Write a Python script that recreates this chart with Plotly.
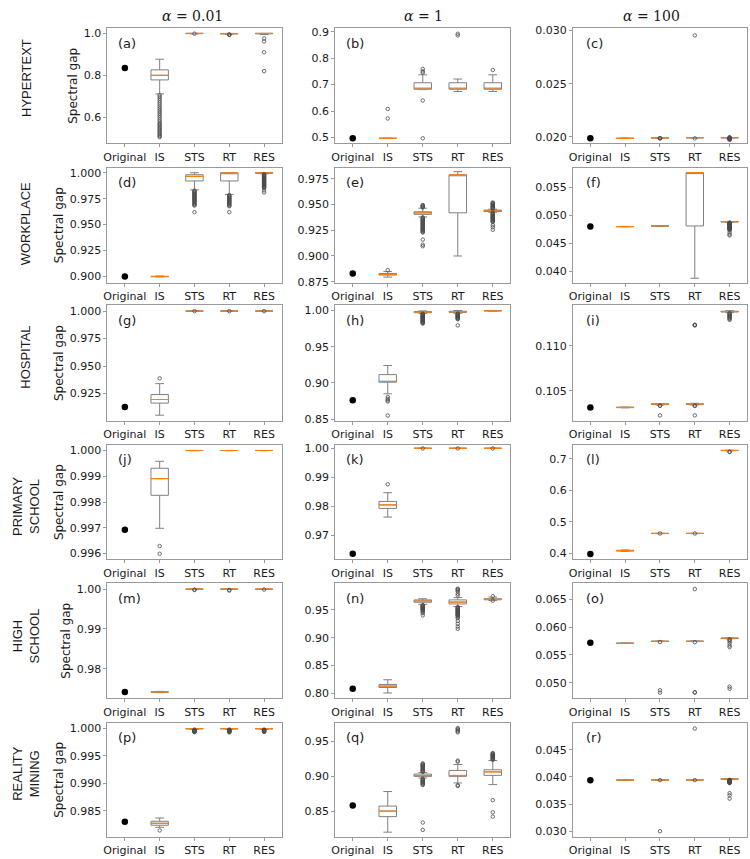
import plotly.graph_objects as go

# ---------------------------------------------------------------- text
CATEGORIES = ["Original", "IS", "STS", "RT", "RES"]
METHODS = ["IS", "STS", "RT", "RES"]
ROW_LABELS = ["HYPERTEXT", "WORKPLACE", "HOSPITAL", "PRIMARY<br>SCHOOL",
              "HIGH<br>SCHOOL", "REALITY<br>MINING"]
COL_TITLES = ["<i>α</i> = 0.01", "<i>α</i> = 1", "<i>α</i> = 100"]
PANEL_TAGS = ["(a)", "(b)", "(c)", "(d)", "(e)", "(f)", "(g)", "(h)", "(i)",
              "(j)", "(k)", "(l)", "(m)", "(n)", "(o)", "(p)", "(q)", "(r)"]
Y_TITLE = "Spectral gap"

# ---------------------------------------------------------------- data
# box summaries: [lower whisker, Q1, median, Q3, upper whisker]

# (a) HYPERTEXT, alpha = 0.01
A_TICKS = ["0.6", "0.8", "1.0"]
A_ORIGINAL = 0.835
A_IS = [0.711, 0.778, 0.800, 0.826, 0.877]
A_STS = [0.998, 0.999, 1.000, 1.000, 1.000]
A_RT = [0.996, 0.998, 0.999, 1.000, 1.000]
A_RES = [0.995, 0.998, 1.000, 1.000, 1.000]
A_IS_OUT = [0.705, 0.697, 0.688, 0.679, 0.670, 0.661, 0.652, 0.643, 0.634, 0.625,
            0.616, 0.607, 0.598, 0.589, 0.580, 0.572, 0.566,
            0.560, 0.553, 0.547, 0.541, 0.535, 0.528, 0.522, 0.516, 0.510, 0.505]
A_STS_OUT = [0.999]
A_RT_OUT = [0.995, 0.994, 0.993]
A_RES_OUT = [0.976, 0.962, 0.910, 0.820]

# (b) HYPERTEXT, alpha = 1
B_TICKS = ["0.5", "0.6", "0.7", "0.8", "0.9"]
B_ORIGINAL = 0.497
B_IS = [0.497, 0.497, 0.497, 0.497, 0.497]
B_STS = [0.681, 0.683, 0.683, 0.707, 0.737]
B_RT = [0.674, 0.683, 0.683, 0.707, 0.721]
B_RES = [0.674, 0.683, 0.683, 0.707, 0.737]
B_IS_OUT = [0.608, 0.572]
B_STS_OUT = [0.745, 0.750, 0.759, 0.640, 0.497]
B_RT_OUT = [0.886, 0.892]
B_RES_OUT = [0.755]

# (c) HYPERTEXT, alpha = 100
C_TICKS = ["0.020", "0.025", "0.030"]
C_ORIGINAL = 0.01985
C_IS = [0.01984, 0.01985, 0.01985, 0.01986, 0.01987]
C_STS = [0.01988, 0.01990, 0.01990, 0.01991, 0.01992]
C_RT = [0.01988, 0.01990, 0.01991, 0.01992, 0.01993]
C_RES = [0.01989, 0.01990, 0.01991, 0.01992, 0.01993]
C_IS_OUT = []
C_STS_OUT = [0.01987, 0.01986, 0.01985]
C_RT_OUT = [0.01985, 0.02954]
C_RES_OUT = [0.01988, 0.01986, 0.01984, 0.01982, 0.01980, 0.01978, 0.01975,
             0.01972, 0.01994, 0.01995]

# (d) WORKPLACE, alpha = 0.01
D_TICKS = ["0.900", "0.925", "0.950", "0.975", "1.000"]
D_ORIGINAL = 0.900
D_IS = [0.8996, 0.8998, 0.9000, 0.9002, 0.9004]
D_STS = [0.9835, 0.9921, 0.9965, 0.9981, 1.0000]
D_RT = [0.9791, 0.9921, 1.0000, 1.0000, 1.0000]
D_RES = [0.9990, 0.9995, 1.0000, 1.0000, 1.0000]
D_IS_OUT = []
D_STS_OUT = [0.9828, 0.9822, 0.9815, 0.9808, 0.9800, 0.9793, 0.9786, 0.9779,
             0.9772, 0.9765, 0.9758, 0.9751, 0.9744, 0.9737, 0.9730, 0.9722,
             0.9714, 0.9706, 0.9698, 0.9690, 0.9684, 0.9620]
D_RT_OUT = [0.9785, 0.9778, 0.9771, 0.9764, 0.9757, 0.9750, 0.9743, 0.9736,
            0.9729, 0.9722, 0.9715, 0.9708, 0.9700, 0.9692, 0.9684, 0.9677,
            0.9620]
D_RES_OUT = [0.9986, 0.9980, 0.9974, 0.9968, 0.9962, 0.9956, 0.9950, 0.9944,
             0.9938, 0.9932, 0.9926, 0.9920, 0.9914, 0.9908, 0.9902, 0.9896,
             0.9890, 0.9884, 0.9878, 0.9872, 0.9866, 0.9860, 0.9854, 0.9830,
             0.9810]

# (e) WORKPLACE, alpha = 1
E_TICKS = ["0.875", "0.900", "0.925", "0.950", "0.975"]
E_ORIGINAL = 0.883
E_IS = [0.8795, 0.8815, 0.8822, 0.8830, 0.8850]
E_STS = [0.9380, 0.9405, 0.9420, 0.9430, 0.9465]
E_RT = [0.9000, 0.9420, 0.9790, 0.9790, 0.9820]
E_RES = [0.9425, 0.9432, 0.9440, 0.9447, 0.9455]
E_IS_OUT = [0.8862]
E_STS_OUT = [0.9472, 0.9478, 0.9484, 0.9490, 0.9496,
             0.9375, 0.9368, 0.9361, 0.9354, 0.9347, 0.9340, 0.9333, 0.9326,
             0.9319, 0.9312, 0.9305, 0.9298, 0.9291, 0.9284, 0.9277, 0.9270,
             0.9263, 0.9256, 0.9249, 0.9242, 0.9235, 0.9228, 0.9160, 0.9110,
             0.9095]
E_RT_OUT = []
E_RES_OUT = [0.9460, 0.9466, 0.9472, 0.9478, 0.9484, 0.9490, 0.9496, 0.9502,
             0.9508, 0.9514, 0.9520,
             0.9420, 0.9414, 0.9408, 0.9402, 0.9396, 0.9390, 0.9384, 0.9378,
             0.9372, 0.9366, 0.9360, 0.9354, 0.9348, 0.9342, 0.9336, 0.9330,
             0.9300, 0.9280, 0.9255]

# (f) WORKPLACE, alpha = 100
F_TICKS = ["0.040", "0.045", "0.050", "0.055"]
F_ORIGINAL = 0.0480
F_IS = [0.04798, 0.04799, 0.04800, 0.04801, 0.04802]
F_STS = [0.04808, 0.04809, 0.04810, 0.04811, 0.04812]
F_RT = [0.0387, 0.0481, 0.0577, 0.0577, 0.0577]
F_RES = [0.04878, 0.04882, 0.04888, 0.04890, 0.04892]
F_IS_OUT = []
F_STS_OUT = []
F_RT_OUT = []
F_RES_OUT = [0.04872, 0.04866, 0.04860, 0.04854, 0.04848, 0.04842, 0.04836,
             0.04830, 0.04824, 0.04818, 0.04812, 0.04806, 0.04800, 0.04794,
             0.04788, 0.04782, 0.04776, 0.04770, 0.04764, 0.04758, 0.04752,
             0.04746, 0.04740, 0.0470, 0.0466, 0.0464]

# (g) HOSPITAL, alpha = 0.01
G_TICKS = ["0.925", "0.950", "0.975", "1.000"]
G_ORIGINAL = 0.9127
G_IS = [0.9053, 0.9163, 0.9196, 0.9241, 0.9340]
G_STS = [0.9998, 0.9999, 1.0000, 1.0000, 1.0000]
G_RT = [0.9998, 0.9999, 1.0000, 1.0000, 1.0000]
G_RES = [0.9998, 0.9999, 1.0000, 1.0000, 1.0000]
G_IS_OUT = [0.9388]
G_STS_OUT = [0.9999]
G_RT_OUT = [0.9999]
G_RES_OUT = [0.9999]

# (h) HOSPITAL, alpha = 1
H_TICKS = ["0.85", "0.90", "0.95", "1.00"]
H_ORIGINAL = 0.876
H_IS = [0.8850, 0.9010, 0.9020, 0.9115, 0.9240]
H_STS = [0.9960, 0.9970, 0.9978, 0.9985, 0.9995]
H_RT = [0.9962, 0.9975, 0.9980, 0.9990, 1.0000]
H_RES = [0.9992, 0.9995, 0.9997, 0.9999, 1.0000]
H_IS_OUT = [0.8805, 0.8780, 0.8760, 0.8745, 0.8550]
H_STS_OUT = [0.9955, 0.9948, 0.9941, 0.9934, 0.9927, 0.9920, 0.9913, 0.9906,
             0.9899, 0.9892, 0.9885, 0.9878, 0.9871, 0.9864, 0.9857, 0.9850,
             0.9843, 0.9836, 0.9829, 0.9820]
H_RT_OUT = [0.9958, 0.9951, 0.9944, 0.9937, 0.9930, 0.9923, 0.9916, 0.9909,
            0.9902, 0.9895, 0.9888, 0.9880, 0.9795]
H_RES_OUT = []

# (i) HOSPITAL, alpha = 100
I_TICKS = ["0.105", "0.110"]
I_ORIGINAL = 0.10316
I_IS = [0.10312, 0.10314, 0.10316, 0.10318, 0.10320]
I_STS = [0.10343, 0.10348, 0.10352, 0.10356, 0.10360]
I_RT = [0.10343, 0.10348, 0.10352, 0.10357, 0.10362]
I_RES = [0.11370, 0.11378, 0.11382, 0.11386, 0.11392]
I_IS_OUT = []
I_STS_OUT = [0.10338, 0.10333, 0.10228]
I_RT_OUT = [0.10338, 0.10332, 0.10228, 0.11228, 0.11232, 0.11236]
I_RES_OUT = [0.11365, 0.11358, 0.11350, 0.11342, 0.11334, 0.11326, 0.11318,
             0.11310, 0.11300, 0.11290]

# (j) PRIMARY SCHOOL, alpha = 0.01
J_TICKS = ["0.996", "0.997", "0.998", "0.999", "1.000"]
J_ORIGINAL = 0.99692
J_IS = [0.99698, 0.99826, 0.99891, 0.99931, 0.99958]
J_STS = [0.99999, 1.00000, 1.00000, 1.00000, 1.00000]
J_RT = [0.99999, 1.00000, 1.00000, 1.00000, 1.00000]
J_RES = [0.99999, 1.00000, 1.00000, 1.00000, 1.00000]
J_IS_OUT = [0.99629, 0.99599]
J_STS_OUT = []
J_RT_OUT = []
J_RES_OUT = []

# (k) PRIMARY SCHOOL, alpha = 1
K_TICKS = ["0.97", "0.98", "0.99", "1.00"]
K_ORIGINAL = 0.9637
K_IS = [0.9763, 0.9793, 0.9805, 0.9817, 0.9847]
K_STS = [0.99995, 1.0, 1.0, 1.0, 1.0]
K_RT = [0.99995, 1.0, 1.0, 1.0, 1.0]
K_RES = [0.99995, 1.0, 1.0, 1.0, 1.0]
K_IS_OUT = [0.9876]
K_STS_OUT = [0.99995]
K_RT_OUT = [0.99995]
K_RES_OUT = [0.99995]

# (l) PRIMARY SCHOOL, alpha = 100
L_TICKS = ["0.4", "0.5", "0.6", "0.7"]
L_ORIGINAL = 0.398
L_IS = [0.407, 0.408, 0.409, 0.410, 0.411]
L_STS = [0.4630, 0.4632, 0.4635, 0.4637, 0.4640]
L_RT = [0.4630, 0.4632, 0.4635, 0.4637, 0.4640]
L_RES = [0.7260, 0.7265, 0.7270, 0.7275, 0.7280]
L_IS_OUT = []
L_STS_OUT = [0.4635]
L_RT_OUT = [0.4635]
L_RES_OUT = [0.7230, 0.7220]

# (m) HIGH SCHOOL, alpha = 0.01
M_TICKS = ["0.98", "0.99", "1.00"]
M_ORIGINAL = 0.9742
M_IS = [0.97405, 0.97415, 0.97420, 0.97425, 0.97435]
M_STS = [0.9999, 0.99995, 1.0, 1.0, 1.0]
M_RT = [0.9999, 0.99995, 1.0, 1.0, 1.0]
M_RES = [0.9999, 0.99995, 1.0, 1.0, 1.0]
M_IS_OUT = []
M_STS_OUT = [0.99985, 0.9998]
M_RT_OUT = [0.9998, 0.99965]
M_RES_OUT = [0.9999]

# (n) HIGH SCHOOL, alpha = 1
N_TICKS = ["0.80", "0.85", "0.90", "0.95"]
N_ORIGINAL = 0.8083
N_IS = [0.8006, 0.8105, 0.8130, 0.8160, 0.8244]
N_STS = [0.9600, 0.9637, 0.9660, 0.9679, 0.9700]
N_RT = [0.9560, 0.9607, 0.9640, 0.9679, 0.9720]
N_RES = [0.9670, 0.9682, 0.9690, 0.9700, 0.9730]
N_IS_OUT = []
N_STS_OUT = [0.9585, 0.9575, 0.9565, 0.9555, 0.9545, 0.9535, 0.9525, 0.9515,
             0.9505, 0.9495, 0.9480, 0.9460, 0.9440, 0.9400]
N_RT_OUT = [0.9760, 0.9790, 0.9830, 0.9855, 0.9870, 0.9880,
            0.9550, 0.9540, 0.9530, 0.9520, 0.9510, 0.9500, 0.9490, 0.9480,
            0.9470, 0.9460, 0.9450, 0.9440, 0.9430, 0.9420, 0.9410, 0.9400,
            0.9390, 0.9370, 0.9350, 0.9300, 0.9250, 0.9200, 0.9160]
N_RES_OUT = [0.9745, 0.9665]

# (o) HIGH SCHOOL, alpha = 100
O_TICKS = ["0.050", "0.055", "0.060", "0.065"]
O_ORIGINAL = 0.05717
O_IS = [0.05708, 0.05709, 0.05710, 0.05711, 0.05712]
O_STS = [0.05740, 0.05743, 0.05745, 0.05747, 0.05750]
O_RT = [0.05740, 0.05743, 0.05745, 0.05748, 0.05752]
O_RES = [0.05790, 0.05797, 0.05800, 0.05803, 0.05806]
O_IS_OUT = []
O_STS_OUT = [0.05732, 0.04864, 0.04822]
O_RT_OUT = [0.05728, 0.06684, 0.04822, 0.04830]
O_RES_OUT = [0.05780, 0.05765, 0.05745, 0.05710, 0.05670, 0.05640, 0.04929,
             0.04893]

# (p) REALITY MINING, alpha = 0.01
P_TICKS = ["0.985", "0.990", "0.995", "1.000"]
P_ORIGINAL = 0.9830
P_IS = [0.98200, 0.98238, 0.98274, 0.98310, 0.98369]
P_STS = [0.99985, 0.99995, 1.0, 1.0, 1.0]
P_RT = [0.99985, 0.99995, 1.0, 1.0, 1.0]
P_RES = [0.99985, 0.99995, 1.0, 1.0, 1.0]
P_IS_OUT = [0.98143]
P_STS_OUT = [0.99980, 0.99975, 0.99970, 0.99965, 0.99960, 0.99955, 0.99950,
             0.99945, 0.99940, 0.99935]
P_RT_OUT = [0.99980, 0.99975, 0.99970, 0.99965, 0.99960, 0.99955, 0.99950,
            0.99945, 0.99940, 0.99930]
P_RES_OUT = [0.99980, 0.99975, 0.99970, 0.99965, 0.99960, 0.99955, 0.99950,
             0.99945, 0.99940]

# (q) REALITY MINING, alpha = 1
Q_TICKS = ["0.85", "0.90", "0.95"]
Q_ORIGINAL = 0.8585
Q_IS = [0.8202, 0.8424, 0.8504, 0.8575, 0.8783]
Q_STS = [0.8976, 0.9000, 0.9009, 0.9033, 0.9057]
Q_RT = [0.8906, 0.9000, 0.9010, 0.9085, 0.9170]
Q_RES = [0.8882, 0.9014, 0.9065, 0.9094, 0.9227]
Q_IS_OUT = []
Q_STS_OUT = [0.9065, 0.9075, 0.9085, 0.9095, 0.9105, 0.9115, 0.9125, 0.9135,
             0.9145, 0.9155, 0.9165, 0.9175, 0.9185,
             0.8968, 0.8958, 0.8948, 0.8938, 0.8928, 0.8918, 0.8908, 0.8898,
             0.8888, 0.8876, 0.8339, 0.8235]
Q_RT_OUT = [0.9210, 0.9225, 0.9630, 0.9645, 0.9660, 0.9675, 0.9690, 0.8875,
            0.8862]
Q_RES_OUT = [0.9237, 0.9245, 0.9253, 0.9261, 0.9269, 0.9277, 0.9285, 0.9293,
             0.9301, 0.9309, 0.9317, 0.9325, 0.9333, 0.8660, 0.8486, 0.8424]

# (r) REALITY MINING, alpha = 100
R_TICKS = ["0.030", "0.035", "0.040", "0.045"]
R_ORIGINAL = 0.0394
R_IS = [0.03938, 0.03939, 0.03940, 0.03941, 0.03942]
R_STS = [0.03942, 0.03944, 0.03945, 0.03946, 0.03948]
R_RT = [0.03942, 0.03944, 0.03945, 0.03946, 0.03948]
R_RES = [0.03950, 0.03955, 0.03960, 0.03963, 0.03970]
R_IS_OUT = []
R_STS_OUT = [0.03940, 0.03000]
R_RT_OUT = [0.03940, 0.04890]
R_RES_OUT = [0.03945, 0.03940, 0.03935, 0.03930, 0.03925, 0.03920, 0.03915,
             0.03910, 0.03905, 0.03900, 0.03895, 0.03890, 0.03885, 0.03700,
             0.03660, 0.03600]

PANELS = [
    (A_ORIGINAL, [A_IS, A_STS, A_RT, A_RES], [A_IS_OUT, A_STS_OUT, A_RT_OUT, A_RES_OUT], A_TICKS),
    (B_ORIGINAL, [B_IS, B_STS, B_RT, B_RES], [B_IS_OUT, B_STS_OUT, B_RT_OUT, B_RES_OUT], B_TICKS),
    (C_ORIGINAL, [C_IS, C_STS, C_RT, C_RES], [C_IS_OUT, C_STS_OUT, C_RT_OUT, C_RES_OUT], C_TICKS),
    (D_ORIGINAL, [D_IS, D_STS, D_RT, D_RES], [D_IS_OUT, D_STS_OUT, D_RT_OUT, D_RES_OUT], D_TICKS),
    (E_ORIGINAL, [E_IS, E_STS, E_RT, E_RES], [E_IS_OUT, E_STS_OUT, E_RT_OUT, E_RES_OUT], E_TICKS),
    (F_ORIGINAL, [F_IS, F_STS, F_RT, F_RES], [F_IS_OUT, F_STS_OUT, F_RT_OUT, F_RES_OUT], F_TICKS),
    (G_ORIGINAL, [G_IS, G_STS, G_RT, G_RES], [G_IS_OUT, G_STS_OUT, G_RT_OUT, G_RES_OUT], G_TICKS),
    (H_ORIGINAL, [H_IS, H_STS, H_RT, H_RES], [H_IS_OUT, H_STS_OUT, H_RT_OUT, H_RES_OUT], H_TICKS),
    (I_ORIGINAL, [I_IS, I_STS, I_RT, I_RES], [I_IS_OUT, I_STS_OUT, I_RT_OUT, I_RES_OUT], I_TICKS),
    (J_ORIGINAL, [J_IS, J_STS, J_RT, J_RES], [J_IS_OUT, J_STS_OUT, J_RT_OUT, J_RES_OUT], J_TICKS),
    (K_ORIGINAL, [K_IS, K_STS, K_RT, K_RES], [K_IS_OUT, K_STS_OUT, K_RT_OUT, K_RES_OUT], K_TICKS),
    (L_ORIGINAL, [L_IS, L_STS, L_RT, L_RES], [L_IS_OUT, L_STS_OUT, L_RT_OUT, L_RES_OUT], L_TICKS),
    (M_ORIGINAL, [M_IS, M_STS, M_RT, M_RES], [M_IS_OUT, M_STS_OUT, M_RT_OUT, M_RES_OUT], M_TICKS),
    (N_ORIGINAL, [N_IS, N_STS, N_RT, N_RES], [N_IS_OUT, N_STS_OUT, N_RT_OUT, N_RES_OUT], N_TICKS),
    (O_ORIGINAL, [O_IS, O_STS, O_RT, O_RES], [O_IS_OUT, O_STS_OUT, O_RT_OUT, O_RES_OUT], O_TICKS),
    (P_ORIGINAL, [P_IS, P_STS, P_RT, P_RES], [P_IS_OUT, P_STS_OUT, P_RT_OUT, P_RES_OUT], P_TICKS),
    (Q_ORIGINAL, [Q_IS, Q_STS, Q_RT, Q_RES], [Q_IS_OUT, Q_STS_OUT, Q_RT_OUT, Q_RES_OUT], Q_TICKS),
    (R_ORIGINAL, [R_IS, R_STS, R_RT, R_RES], [R_IS_OUT, R_STS_OUT, R_RT_OUT, R_RES_OUT], R_TICKS),
]

# ---------------------------------------------------------------- layout / style
W, H = 750, 859
COL_PX = [(104, 279), (333, 509), (572, 747)]
ROW_PX = [(24.5, 141), (165.5, 282), (305, 421.5), (446, 562), (586, 702.5), (727, 843)]
Y_RANGES = [
    [0.475, 1.025], [0.478, 0.913], [0.01938, 0.03022],
    [0.894, 1.005], [0.874, 0.986], [0.0379, 0.0586],
    [0.9004, 1.0051], [0.848, 1.007], [0.1017, 0.1145],
    [0.99577, 1.00022], [0.9617, 1.0012], [0.381, 0.745],
    [0.9726, 1.0015], [0.791, 0.998], [0.0472, 0.0679],
    [0.9802, 1.0011], [0.813, 0.977], [0.0289, 0.0500],
]
ROW_LABEL_Y = [75, 222, 357, 508, 639, 778]
COL_TITLE_X = [190, 421.5, 651]
TAG_X = [0.05, 0.05, 0.065]

SANS = "DejaVu Sans"
BOX_LINE = "#808080"
MEDIAN = "#ff7f0e"
FRAME = "#9a9a9a"
TEXT = "#1a1a1a"

fig = go.Figure()
layout = dict(
    width=W, height=H, margin=dict(l=0, r=0, t=0, b=0),
    paper_bgcolor="white", plot_bgcolor="white",
    showlegend=False, boxmode="overlay",
    font=dict(family=SANS, size=11, color=TEXT),
)
annotations = []

for k, (orig, stats, outs, ticks) in enumerate(PANELS):
    r, c = divmod(k, 3)
    sfx = "" if k == 0 else str(k + 1)
    xa, ya = "x" + sfx, "y" + sfx

    # original value
    fig.add_trace(go.Scatter(
        x=["Original"], y=[orig], mode="markers", xaxis=xa, yaxis=ya,
        marker=dict(color="black", size=6.5, symbol="circle"), hoverinfo="y"))

    for m, s in zip(METHODS, stats):
        lo, q1, med, q3, hi = s
        fig.add_trace(go.Box(
            x=[m], lowerfence=[lo], q1=[q1], median=[med], q3=[q3], upperfence=[hi],
            xaxis=xa, yaxis=ya, width=0.5, whiskerwidth=0.5,
            line=dict(color=BOX_LINE, width=1), fillcolor="rgba(255,255,255,0)",
            boxpoints=False))
    for m, o in zip(METHODS, outs):
        if o:
            fig.add_trace(go.Scatter(
                x=[m] * len(o), y=o, mode="markers", xaxis=xa, yaxis=ya,
                marker=dict(symbol="circle-open", size=3.5, color="#4a4a4a",
                            line=dict(width=0.8))))
    for m, s in zip(METHODS, stats):
        med = s[2]
        fig.add_trace(go.Box(
            x=[m], lowerfence=[med], q1=[med], median=[med], q3=[med], upperfence=[med],
            xaxis=xa, yaxis=ya, width=0.5, whiskerwidth=0,
            line=dict(color=MEDIAN, width=1.2), fillcolor="rgba(255,255,255,0)",
            boxpoints=False))

    x0, x1 = COL_PX[c]
    y0, y1 = ROW_PX[r]
    layout["xaxis" + sfx] = dict(
        domain=[x0 / W, x1 / W], anchor=ya, type="category",
        categoryorder="array", categoryarray=CATEGORIES, range=[-0.5, 4.5],
        showline=True, mirror=True, linecolor=FRAME, linewidth=1,
        ticks="outside", ticklen=3, tickcolor=FRAME, showgrid=False,
        zeroline=False, tickfont=dict(family=SANS, size=11, color=TEXT))
    yax = dict(
        domain=[1 - y1 / H, 1 - y0 / H], anchor=xa, range=Y_RANGES[k],
        tickvals=[float(t) for t in ticks], ticktext=ticks,
        showline=True, mirror=True, linecolor=FRAME, linewidth=1,
        ticks="outside", ticklen=3, tickcolor=FRAME, showgrid=False,
        zeroline=False, tickfont=dict(family=SANS, size=11, color=TEXT))
    if c == 0:
        yax["title"] = dict(text=Y_TITLE, font=dict(family=SANS, size=12, color=TEXT),
                            standoff=3)
    layout["yaxis" + sfx] = yax

    annotations.append(dict(
        text=PANEL_TAGS[k], xref=xa + " domain", yref=ya + " domain",
        x=TAG_X[c], y=1 - 15 / (y1 - y0), xanchor="left", yanchor="middle",
        showarrow=False, font=dict(family=SANS, size=13, color=TEXT)))

for r, lab in enumerate(ROW_LABELS):
    annotations.append(dict(
        text=lab, xref="paper", yref="paper", x=22 / W, y=1 - ROW_LABEL_Y[r] / H,
        xanchor="center", yanchor="middle", textangle=-90, showarrow=False,
        font=dict(family="Liberation Sans", size=13, color=TEXT)))

for c, t in enumerate(COL_TITLES):
    annotations.append(dict(
        text=t, xref="paper", yref="paper", x=COL_TITLE_X[c] / W, y=1 - 12.5 / H,
        xanchor="center", yanchor="middle", showarrow=False,
        font=dict(family="DejaVu Serif", size=14, color=TEXT)))

layout["annotations"] = annotations
fig.update_layout(**layout)
fig.write_html(
    "out.html",
    config={"displayModeBar": False},
    post_script="document.body.style.margin='0px';document.body.style.overflow='hidden';",
)
